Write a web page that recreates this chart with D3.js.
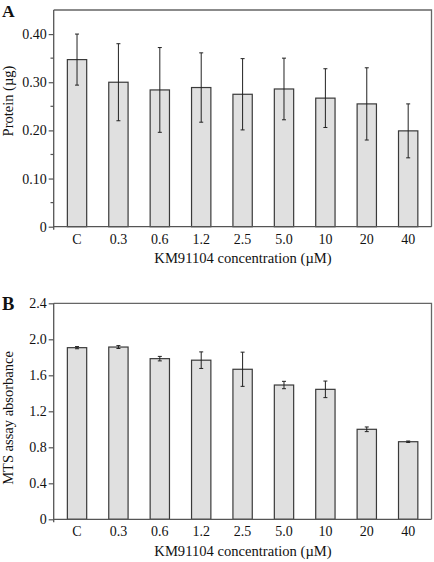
<!DOCTYPE html>
<html><head><meta charset="utf-8">
<script src="https://cdn.jsdelivr.net/npm/d3@7"></script>
<style>html,body{margin:0;padding:0;background:#fff;}svg{display:block;font-family:"Liberation Serif","Times New Roman",serif;}</style>
</head><body>
<script>
const categories = ["C","0.3","0.6","1.2","2.5","5.0","10","20","40"];
const proteinMean = [0.347,0.300,0.284,0.289,0.275,0.286,0.267,0.255,0.199];
const proteinErr  = [0.053,0.080,0.088,0.072,0.074,0.064,0.061,0.075,0.056];
const proteinTicks = [0,0.10,0.20,0.30,0.40];
const proteinMinor = [0.05,0.15,0.25,0.35];
const mtsMean = [1.907,1.914,1.785,1.768,1.667,1.492,1.444,1.000,0.862];
const mtsErr  = [0.012,0.016,0.025,0.092,0.190,0.041,0.092,0.026,0.008];
const mtsTicks = [0,0.4,0.8,1.2,1.6,2.0,2.4];
const xTitle = "KM91104 concentration (\u00b5M)";

const W=434,H=562;
const svg=d3.select("body").append("svg").attr("width",W).attr("height",H);

function panel(o){
  const g=svg.append("g");
  const x=d3.scaleBand().domain(categories).range([53.7,431.5]).paddingInner(0.533).paddingOuter(0.33);
  const y=d3.scaleLinear().domain(o.domain).range([o.bottom,o.top]);
  g.append("path").attr("d",`M53.7,${o.top}H431.5V${o.bottom}`).attr("fill","none").attr("stroke","#666").attr("stroke-width",1.3);
  g.selectAll("rect.bar").data(categories).join("rect")
    .attr("x",d=>x(d)).attr("width",x.bandwidth())
    .attr("y",(d,i)=>y(o.mean[i])).attr("height",(d,i)=>o.bottom-y(o.mean[i]))
    .attr("fill","#e0e0e0").attr("stroke","#3a3a3a").attr("stroke-width",1.2);
  const eb=g.selectAll("g.eb").data(categories).join("g");
  eb.append("line").attr("x1",d=>x(d)+x.bandwidth()/2).attr("x2",d=>x(d)+x.bandwidth()/2)
    .attr("y1",(d,i)=>y(o.mean[i]+o.err[i])).attr("y2",(d,i)=>y(o.mean[i]-o.err[i]))
    .attr("stroke","#222").attr("stroke-width",1);
  [1,-1].forEach(s=>{
    eb.append("line").attr("x1",d=>x(d)+x.bandwidth()/2-2).attr("x2",d=>x(d)+x.bandwidth()/2+2)
      .attr("y1",(d,i)=>y(o.mean[i]+s*o.err[i])).attr("y2",(d,i)=>y(o.mean[i]+s*o.err[i]))
      .attr("stroke","#222").attr("stroke-width",1);
  });
  const ya=g.append("g").attr("transform","translate(53.7,0)")
    .call(d3.axisLeft(y).tickValues(o.ticks).tickSize(5).tickPadding(2).tickSizeOuter(0).tickFormat(o.fmt));
  ya.select(".domain").attr("stroke","#555").attr("stroke-width",1.3).attr("d",`M0,${o.top}V${o.bottom+3}`);
  ya.selectAll(".tick line").attr("stroke","#555").attr("stroke-width",1.2);
  ya.selectAll("text").attr("font-family","Liberation Serif").attr("font-size",14).attr("fill","#111");
  if(o.minor){
    g.selectAll("line.minor").data(o.minor).join("line").attr("x1",50.5).attr("x2",53.7)
      .attr("y1",d=>y(d)).attr("y2",d=>y(d)).attr("stroke","#555").attr("stroke-width",1.2);
  }
  const xa=g.append("g").attr("transform",`translate(0,${o.bottom})`)
    .call(d3.axisBottom(x).tickSize(0).tickPadding(7));
  xa.select(".domain").attr("stroke","#555").attr("stroke-width",1.3).attr("d","M53.7,0H431.5");
  xa.selectAll("text").attr("font-family","Liberation Serif").attr("font-size",14).attr("fill","#111");
  g.append("text").attr("x",243).attr("y",o.bottom+36.5).attr("text-anchor","middle")
    .attr("font-size",14.6).attr("fill","#111").text(xTitle);
  g.append("text").attr("transform",`translate(13,${o.ytitleY}) rotate(-90)`).attr("text-anchor","middle")
    .attr("font-size",14.5).attr("fill","#111").text(o.ytitle);
  g.append("text").attr("x",2).attr("y",o.letterY).attr("font-weight","bold").attr("font-size",o.letterSize)
    .attr("fill","#111").text(o.letter);
}

panel({domain:[0,0.45],top:10,bottom:226.7,mean:proteinMean,err:proteinErr,ticks:proteinTicks,minor:proteinMinor,
  fmt:d=>d===0?"0":d3.format(".2f")(d),ytitle:"Protein (\u00b5g)",ytitleY:101,letter:"A",letterY:16.8,letterSize:17.5});
panel({domain:[0,2.4],top:303.3,bottom:519.3,mean:mtsMean,err:mtsErr,ticks:mtsTicks,minor:null,
  fmt:d=>d===0?"0":d3.format(".1f")(d),ytitle:"MTS assay absorbance",ytitleY:418,letter:"B",letterY:309.8,letterSize:18.5});
</script>
</body></html>
